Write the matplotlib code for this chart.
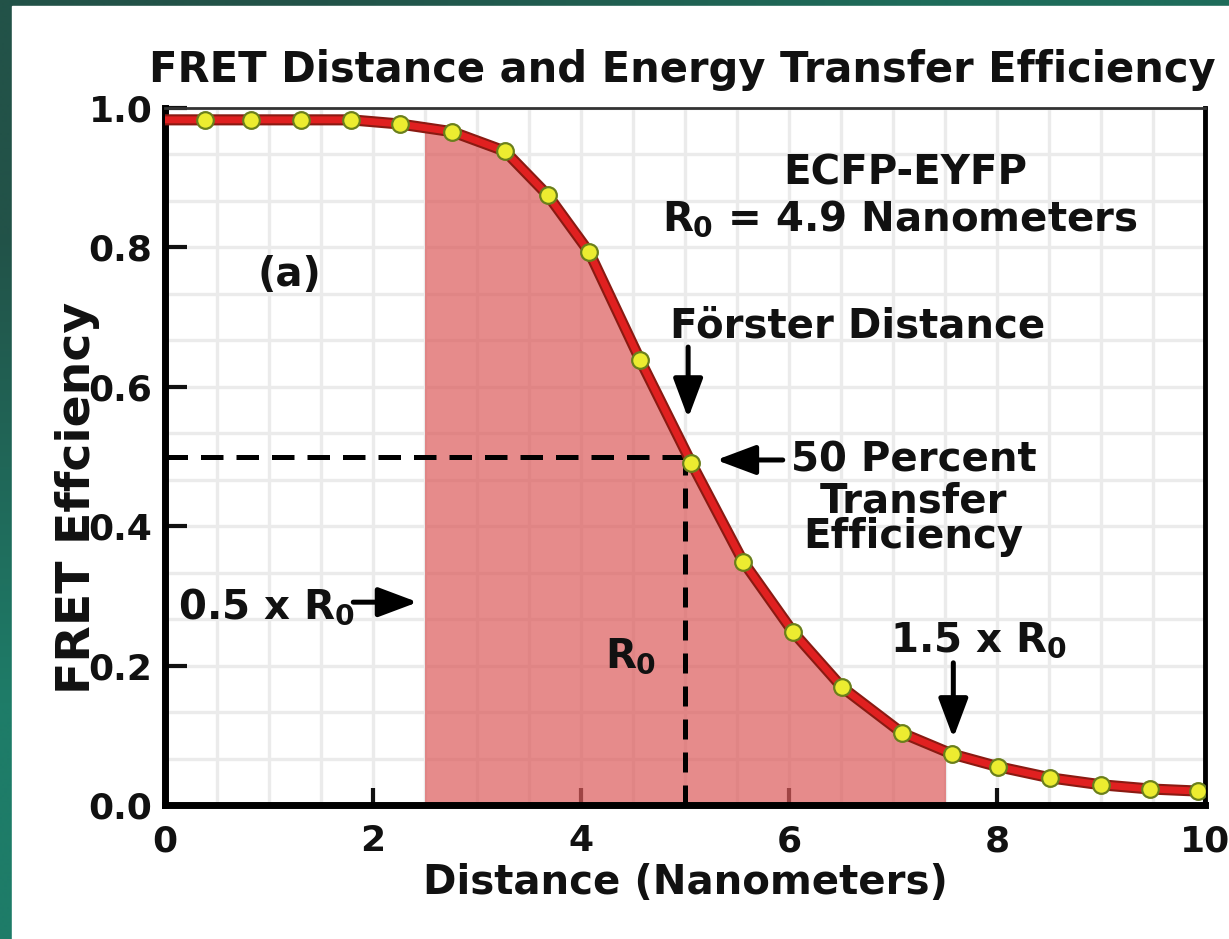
import numpy as np
import matplotlib.pyplot as plt
import matplotlib.patheffects as pe
from matplotlib.patches import Rectangle
from matplotlib.ticker import MultipleLocator

plt.rcParams['font.family'] = 'DejaVu Sans'
plt.rcParams['font.weight'] = 'bold'
plt.rcParams['axes.labelweight'] = 'bold'
plt.rcParams['mathtext.fontset'] = 'custom'
plt.rcParams['mathtext.rm'] = 'DejaVu Sans:bold'
plt.rcParams['mathtext.it'] = 'DejaVu Sans:bold'
plt.rcParams['mathtext.bf'] = 'DejaVu Sans:bold'

# values
distance = [0.38, 0.83, 1.31, 1.79, 2.26, 2.76, 3.27, 3.68, 4.08, 4.57, 5.06,
            5.56, 6.04, 6.51, 7.09, 7.57, 8.01, 8.51, 9.00, 9.47, 9.93]
efficiency = [0.983, 0.983, 0.983, 0.983, 0.977, 0.966, 0.938, 0.875, 0.793, 0.638, 0.491,
              0.349, 0.248, 0.169, 0.103, 0.073, 0.055, 0.039, 0.029, 0.023, 0.020]
curve_x = [0.0] + distance + [10.0]
curve_y = [0.983] + efficiency + [0.019]

r0_mark = 5.0
half_eff = 0.5
shade_lo, shade_hi = 2.5, 7.5

x_ticks = [0, 2, 4, 6, 8, 10]
x_labels = ['0', '2', '4', '6', '8', '10']
y_ticks = [0.0, 0.2, 0.4, 0.6, 0.8, 1.0]
y_labels = ['0.0', '0.2', '0.4', '0.6', '0.8', '1.0']

W, H = 1229, 939
fig = plt.figure(figsize=(W / 100, H / 100), dpi=100)

# teal frame + white panel
bg = fig.add_axes([0, 0, 1, 1], zorder=-10)
grad = np.array([[[34, 82, 72], [30, 108, 90]],
                 [[30, 124, 104], [30, 124, 104]]]) / 255
bg.imshow(grad, extent=[0, 1, 0, 1], aspect='auto', interpolation='bilinear')
bg.add_patch(Rectangle((12 / W, 0), 1, 1 - 6 / H, color='white', transform=bg.transAxes))
bg.set_xlim(0, 1)
bg.set_ylim(0, 1)
bg.axis('off')

ax = fig.add_axes([165 / W, 134 / H, 1040 / W, 697 / H])
ax.set_xlim(0, 10)
ax.set_ylim(0, 1)

ax.xaxis.set_minor_locator(MultipleLocator(0.5))
ax.yaxis.set_minor_locator(MultipleLocator(0.2 / 3))
ax.grid(which='both', color='#ebebeb', lw=2.4)
ax.set_axisbelow(True)

# shaded band between 0.5 R0 and 1.5 R0
fill = ax.fill_between(curve_x, curve_y, 0, color='#dc5a5a', alpha=0.7, lw=0, zorder=1)
fill.set_clip_path(Rectangle((shade_lo, 0), shade_hi - shade_lo, 1, transform=ax.transData))

ax.plot([0, r0_mark], [half_eff, half_eff], color='black', lw=3.6, dashes=(4.5, 2.6), zorder=3)
ax.plot([r0_mark, r0_mark], [0, half_eff], color='black', lw=3.6, dashes=(4.0, 2.6), zorder=3)

ax.plot(curve_x, curve_y, color='#e02020', lw=5, zorder=4, solid_joinstyle='round',
        path_effects=[pe.Stroke(linewidth=8, foreground='#8a1a12'), pe.Normal()])
ax.plot(distance, efficiency, 'o', ls='none', ms=12, mfc='#ecec30', mec='#6a7f1c',
        mew=1.6, zorder=5)

ax.set_xticks(x_ticks)
ax.set_xticklabels(x_labels)
ax.set_yticks(y_ticks)
ax.set_yticklabels(y_labels)
ax.tick_params(which='minor', length=0)
ax.tick_params(axis='x', direction='in', length=12, width=3, pad=14, labelsize=26, colors='#111111')
ax.tick_params(axis='y', direction='in', length=16, width=3, pad=9, labelsize=26, colors='#111111')

for side, lw, c in [('left', 5, 'black'), ('bottom', 5, 'black'), ('right', 3.5, 'black'), ('top', 2, '#333333')]:
    ax.spines[side].set_linewidth(lw)
    ax.spines[side].set_color(c)

ax.set_xlabel('Distance (Nanometers)', fontsize=29, fontweight='bold', va='baseline', color='#111111')
ax.xaxis.set_label_coords(0.5, -0.128)
ax.set_ylabel('FRET Effciency', fontsize=34, fontweight='bold', va='baseline', color='#111111')
ax.yaxis.set_label_coords(-0.072, 0.44)

fig.text(682 / W, 1 - 82 / H, 'FRET Distance and Energy Transfer Efficiency',
         ha='center', va='baseline', fontsize=30, fontweight='bold', color='#111111')

txt = dict(fontsize=29, fontweight='bold', va='baseline', color='#111111')
ax.text(1.20, 0.745, '(a)', ha='center', **txt)
ax.text(7.12, 0.890, 'ECFP-EYFP', ha='center', **txt)
ax.text(7.07, 0.824, r'$R_0$ = 4.9 Nanometers', ha='center', **txt)
ax.text(6.66, 0.671, 'Förster Distance', ha='center', **txt)
ax.text(7.20, 0.478, '50 Percent', ha='center', **txt)
ax.text(7.20, 0.420, 'Transfer', ha='center', **txt)
ax.text(7.20, 0.369, 'Efficiency', ha='center', **txt)
ax.text(0.125, 0.268, r'0.5 x $R_0$', ha='left', **txt)
ax.text(4.23, 0.198, r'$R_0$', ha='left', **txt)
ax.text(6.97, 0.220, r'1.5 x $R_0$', ha='left', **txt)


def arrow(x0, y0, x1, y1):
    ax.annotate('', xy=(x1, y1), xytext=(x0, y0),
                arrowprops=dict(arrowstyle='-|>,head_length=1.2,head_width=0.45',
                                lw=3.6, color='black', shrinkA=0, shrinkB=0,
                                mutation_scale=20), zorder=6)


arrow(5.03, 0.657, 5.03, 0.555)
arrow(5.94, 0.495, 5.30, 0.495)
arrow(1.81, 0.291, 2.43, 0.291)
arrow(7.58, 0.204, 7.58, 0.096)

fig.savefig('out.png', dpi=100)
